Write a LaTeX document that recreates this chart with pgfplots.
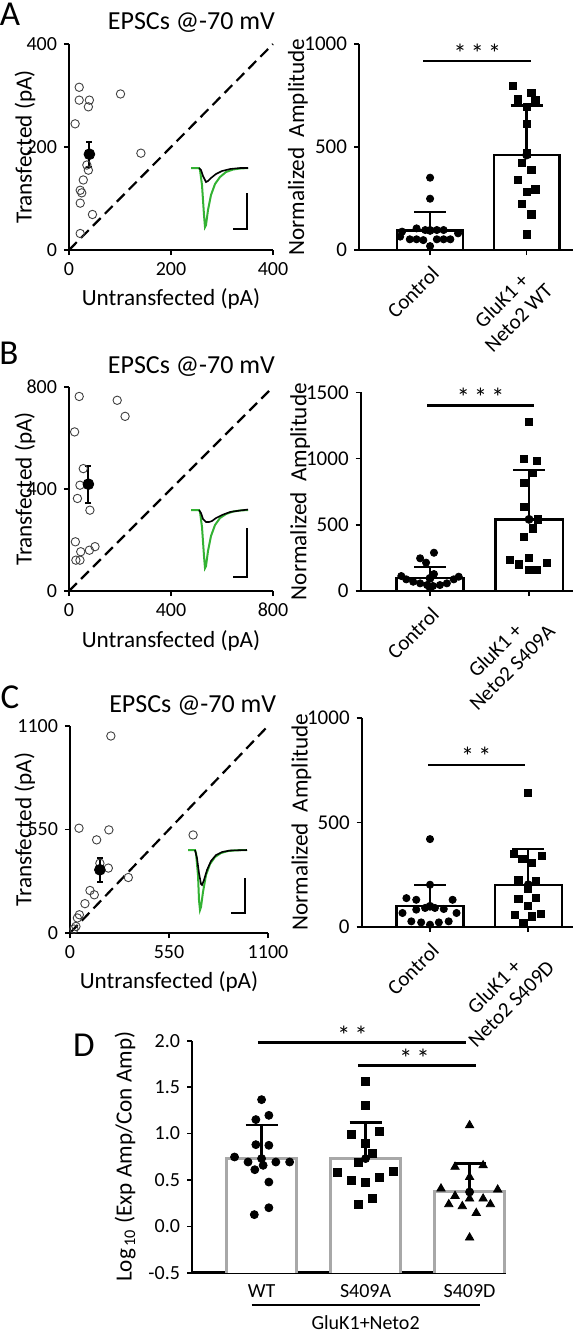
\documentclass[border=0pt]{standalone}
\usepackage{pgfplots}
\pgfplotsset{compat=1.18}
\usepackage{fontspec}
\setmainfont{Carlito}
\newcommand{\tickfont}{\fontsize{10.5}{12}\selectfont}
\newcommand{\sctickfont}{\fontsize{10}{11}\selectfont}
\newcommand{\labfont}{\fontsize{11.6}{13}\selectfont}
\newcommand{\starfont}{\fontsize{13}{14}\selectfont}
\newcommand{\letfont}{\fontsize{17.5}{19}\selectfont}
\pgfplotsset{
  myax/.style={scale only axis, anchor=south west, axis x line*=bottom, axis y line*=left,
    axis line style={line width=1pt,-}, tick align=outside, major tick length=2.5pt,
    tick style={line width=0.8pt,black}, ticklabel style={font=\tickfont},
    label style={font=\labfont}, /pgf/number format/assume math mode=true,
    /pgf/number format/1000 sep={}, clip=false},
  scax/.style={myax, ticklabel style={font=\sctickfont}, xlabel={Untransfected (pA)}, ylabel={Transfected (pA)},
    ylabel style={at={(axis description cs:-0.216,0.5)}, anchor=center}},
  barax/.style={myax, ymin=0, xtick={1,2}, xticklabel style={rotate=45, anchor=north east, align=center, font=\tickfont},
    ylabel={Normalized\ \ Amplitude}, ylabel style={at={(axis description cs:-0.285,0.5)}, anchor=center}},
  bars/.style={ybar, bar width=0.68, bar shift=0pt, fill=white, draw=black, line width=1.2pt},
  errup/.style={only marks, mark=none, black, error bars/.cd, y dir=plus, y explicit, error bar style={line width=1.2pt,black}, error mark options={rotate=90, line width=1.2pt, mark size=8pt,black}},
  dots/.style={only marks, mark=*, mark size=1.8pt, black},
  sqs/.style={only marks, mark=square*, mark size=1.8pt, black},
  opencirc/.style={only marks, mark=o, mark size=2.1pt, mark options={line width=0.45pt, draw=black!75}},
  meanpt/.style={only marks, mark=*, mark size=2.7pt, black, error bars/.cd, y dir=both, y explicit, error bar style={line width=1pt,black}, error mark options={rotate=90, line width=1pt, mark size=1.5pt,black}},
  diag/.style={black, line width=1.1pt, dash pattern=on 5.5pt off 3pt},
}
\definecolor{trgreen}{HTML}{33B233}
\definecolor{bargray}{HTML}{A8A8A8}
\begin{document}
\begin{tikzpicture}
% ---------------- Panel A scatter
\begin{axis}[scax, at={(34.5pt,-125pt)}, width=102pt, height=103pt, xmin=0,xmax=400,ymin=0,ymax=400,
  xtick={0,200,400}, ytick={0,200,400}]
\addplot[diag] coordinates {(0,0) (400,400)};
\addplot[opencirc] coordinates {(20,316)(20,291)(40,291)(38,278)(12,245)(101,303)(141,188)(35,165)(38,155)(28,136)(22,116)(25,111)(22,91)(46,69)(22,32)};
\addplot[meanpt] coordinates {(40,186) +- (0,24)};
\node[font=\fontsize{13}{14}\selectfont] at (axis description cs:0.6,1.105) {EPSCs @-70 mV};
\end{axis}
% ---------------- Panel A bars
\begin{axis}[barax, at={(179.5pt,-125pt)}, width=107pt, height=103pt, xmin=0.264, xmax=2.48, ymax=1000,
  ytick={0,500,1000}, xticklabels={Control,{GluK1 +\\Neto2 WT}}]
\addplot[bars] coordinates {(1,95) (2,461)};
\addplot[errup] coordinates {(1,95) +- (0,89) (2,461) +- (0,241)};
\addplot[dots] coordinates {(1,351)(1,249)(0.71,89)(0.86,105)(0.95,97)(1.07,97)(1.14,97)(1.29,81)(0.69,65)(0.79,52)(0.86,52)(0.93,48)(1.07,52)(1.14,52)(1.21,52)(1,19)};
\addplot[sqs] coordinates {(1.86,796)(2.05,764)(1.91,731)(2.09,728)(2,696)(2,612)(2,469)(1.95,421)(2.05,388)(1.91,340)(2.09,294)(2,283)(1.95,223)(2.05,173)(2,76)};
\draw[line width=1.2pt] (axis cs:0.93,917) -- (axis cs:2.04,917);
\node[font=\starfont] at (axis cs:1.49,955) {*\,*\,*};
\end{axis}
% ---------------- Panel B scatter
\begin{axis}[scax, at={(34.5pt,-295.5pt)}, width=102pt, height=102pt, xmin=0,xmax=800,ymin=0,ymax=800,
  xtick={0,400,800}, ytick={0,400,800}]
\addplot[diag] coordinates {(0,0) (800,800)};
\addplot[opencirc] coordinates {(40,763)(189,748)(220,685)(22,624)(56,480)(43,415)(33,363)(82,317)(25,193)(27,121)(43,121)(46,154)(80,160)(102,174)};
\addplot[meanpt] coordinates {(76,419) +- (0,72)};
\node[font=\fontsize{13}{14}\selectfont] at (axis description cs:0.6,1.1) {EPSCs @-70 mV};
\end{axis}
% ---------------- Panel B bars
\begin{axis}[barax, at={(180.35pt,-295.5pt)}, width=106.15pt, height=99.35pt, xmin=0.30, xmax=2.444, ymax=1500,
  ytick={0,500,1000,1500}, xticklabels={Control,{GluK1 +\\Neto2 S409A}}]
\addplot[bars] coordinates {(1,96) (2,541)};
\addplot[errup] coordinates {(1,96) +- (0,83) (2,541) +- (0,373)};
\addplot[dots] coordinates {(1.04,289)(0.9,247)(0.96,214)(1.04,128)(0.71,113)(0.76,88)(0.83,70)(0.9,58)(0.97,45)(1.03,38)(1.1,45)(1.17,58)(1.24,88)(1.29,108)(1,20)};
\addplot[sqs] coordinates {(2,1279)(1.95,997)(2.08,982)(2.04,889)(1.95,818)(1.95,632)(2.09,541)(2.04,473)(1.95,410)(1.81,234)(2,252)(2.18,214)(1.9,201)(2,159)(2.08,159)};
\draw[line width=1.2pt] (axis cs:0.97,1399) -- (axis cs:2.05,1399);
\node[font=\starfont] at (axis cs:1.51,1460) {*\,*\,*};
\end{axis}
% ---------------- Panel C scatter
\begin{axis}[scax, at={(35pt,-466.5pt)}, width=99pt, height=103.5pt, xmin=0,xmax=1100,ymin=0,ymax=1100,
  xtick={0,550,1100}, ytick={0,550,1100}, ylabel style={at={(axis description cs:-0.228,0.5)}}]
\addplot[diag] coordinates {(0,0) (1100,1100)};
\addplot[opencirc] coordinates {(227,1047)(50,557)(216,548)(148,495)(684,521)(166,371)(213,345)(324,295)(111,226)(135,203)(83,156)(52,97)(41,80)(33,35)(22,21)};
\addplot[meanpt] coordinates {(166,336) +- (0,64)};
\node[font=\fontsize{13}{14}\selectfont] at (axis description cs:0.62,1.1) {EPSCs @-70 mV};
\end{axis}
% ---------------- Panel C bars
\begin{axis}[barax, at={(180.85pt,-463.5pt)}, width=105.65pt, height=104.65pt, xmin=0.305, xmax=2.455, ymax=1000,
  ytick={0,500,1000}, xticklabels={Control,{GluK1 +\\Neto2 S409D}}]
\addplot[bars] coordinates {(1,99) (2,202)};
\addplot[errup] coordinates {(1,99) +- (0,103) (2,202) +- (0,172)};
\addplot[dots] coordinates {(1,420)(1,202)(0.76,138)(0.86,130)(1.23,130)(0.72,67)(0.86,83)(0.95,91)(1.05,91)(1.14,86)(1.27,67)(0.81,27)(0.91,22)(1,11)(1.09,22)(1.19,27)};
\addplot[sqs] coordinates {(2,642)(1.85,350)(1.94,324)(2.14,340)(2.04,305)(1.9,226)(2.08,221)(2,181)(1.9,134)(2.08,138)(2,99)(1.86,56)(2.04,51)(2.13,62)(1.95,19)};
\draw[line width=1.2pt] (axis cs:0.98,774) -- (axis cs:1.97,774);
\node[font=\starfont] at (axis cs:1.47,818) {*\,*};
\end{axis}
% ---------------- Panel D
\begin{axis}[myax, at={(96pt,-636.35pt)}, width=157pt, height=116pt, xmin=0.331, xmax=3.35, ymin=-0.5, ymax=2.0,
  axis line style={line width=1.3pt,-}, ticklabel style={font=\fontsize{10}{11}\selectfont},
  ytick={-0.5,0,0.5,1,1.5,2}, yticklabel style={/pgf/number format/.cd, fixed, fixed zerofill, precision=1},
  xtick={1,2,3}, xticklabels={WT,S409A,S409D}, xtick style={draw=none},
  ylabel={Log\textsubscript{\,10} (Exp Amp/Con Amp)}, ylabel style={at={(axis description cs:-0.213,0.5)}, anchor=center}]
\addplot[bargray, line width=1.5pt, fill=white] coordinates {(0.66,-0.5)(0.66,0.73)(1.34,0.73)(1.34,-0.5)};
\addplot[bargray, line width=1.5pt, fill=white] coordinates {(1.66,-0.5)(1.66,0.73)(2.34,0.73)(2.34,-0.5)};
\addplot[bargray, line width=1.5pt, fill=white] coordinates {(2.66,-0.5)(2.66,0.37)(3.34,0.37)(3.34,-0.5)};
\addplot[errup] coordinates {(1,0.73) +- (0,0.36) (2,0.73) +- (0,0.39) (3,0.37) +- (0,0.305)};
\addplot[only marks, mark=*, mark size=2pt, black] coordinates {(1,1.365)(0.945,1.15)(1.07,1.196)(0.945,0.88)(1.07,0.873)(0.74,0.747)(0.87,0.693)(0.935,0.61)(1.015,0.657)(1.137,0.693)(1.27,0.693)(1.07,0.477)(1.07,0.20)(0.93,0.126)};
\addplot[only marks, mark=square*, mark size=2pt, black] coordinates {(2,1.56)(2,1.30)(1.86,0.99)(2.135,1.02)(2,0.89)(2.07,0.79)(1.93,0.69)(1.73,0.585)(2.27,0.596)(1.86,0.496)(2,0.47)(2.135,0.53)(2.07,0.305)(1.93,0.237)};
\addplot[only marks, mark=triangle*, mark size=2.4pt, black] coordinates {(3,1.088)(2.86,0.64)(3.13,0.657)(3,0.53)(2.725,0.406)(3.27,0.395)(2.86,0.327)(3,0.298)(3.13,0.298)(2.8,0.237)(2.93,0.216)(3.2,0.237)(3.064,0.143)(3,-0.122)};
\draw[line width=1.2pt] (axis cs:0.965,1.98) -- (axis cs:2.97,1.98);
\node[font=\starfont] at (axis cs:1.875,2.06) {*\,*};
\draw[line width=1.2pt] (axis cs:1.93,1.735) -- (axis cs:3.06,1.735);
\node[font=\starfont] at (axis cs:2.47,1.815) {*\,*};
\draw[line width=1.2pt] (axis cs:0.904,-0.85) -- (axis cs:3.096,-0.85);
\node[font=\fontsize{10}{11}\selectfont] at (axis cs:2.0,-1.035) {GluK1+Neto2};
\end{axis}
% ---------------- overlay: traces, scale bars, panel letters
\begin{axis}[at={(0pt,0pt)}, anchor=north west, scale only axis, width=287pt, height=666.5pt,
  xmin=0,xmax=574,ymin=0,ymax=1333, y dir=reverse, hide axis, clip=false]
% A traces
\addplot[trgreen, line width=1pt] coordinates {(191,168)(199,168)(200,170)(202,185)(204,215)(205,227)(206,225)(208,210)(211,195)(215,184)(220,177)(226,172)(233,169.5)(240,168.5)(248,168)};
\addplot[black, line width=0.8pt] coordinates {(199,168)(201,170)(203,176)(206,182)(208,181)(211,178)(216,174)(222,171)(230,169)(240,168)(248,168)};
\addplot[black, line width=1pt] coordinates {(233,229)(247,229)(247,193)};
% B traces
\addplot[trgreen, line width=1pt] coordinates {(191,510)(199,510)(200,512)(202,527)(204,556)(205,568)(206,566)(208,551)(211,536)(215,525)(220,518)(226,514)(233,511.5)(240,510.5)(248,510)};
\addplot[black, line width=0.8pt] coordinates {(199,510)(201,513)(203,519)(206,522)(209,522)(212,521)(216,518)(222,515)(230,512)(240,510.5)(248,509.5)};
\addplot[black, line width=1pt] coordinates {(233.3,577.3)(246.7,577.3)(246.7,528.3)};
% C traces
\addplot[trgreen, line width=1pt] coordinates {(188,850)(195,850)(196,853)(198,875)(199,900)(200,910)(201,907)(203,892)(206,875)(210,864)(215,857)(221,853)(228,851)(236,850.3)(247,850)};
\addplot[black, line width=0.8pt] coordinates {(195,850)(197,858)(199,873)(201,884)(202,885)(204,880)(207,870)(211,861)(216,855)(222,852)(230,850.5)(247,850)};
\addplot[black, line width=1pt] coordinates {(231,913.3)(245,913.3)(245,878.3)};
\node[font=\letfont] at (axis cs:10,14) {A};
\node[font=\letfont] at (axis cs:9,353) {B};
\node[font=\letfont] at (axis cs:10,697) {C};
\node[font=\letfont] at (axis cs:84,1045) {D};
\end{axis}
\pgfresetboundingbox
\path (0pt,0pt) rectangle (287pt,-666.5pt);
\end{tikzpicture}
\end{document}
